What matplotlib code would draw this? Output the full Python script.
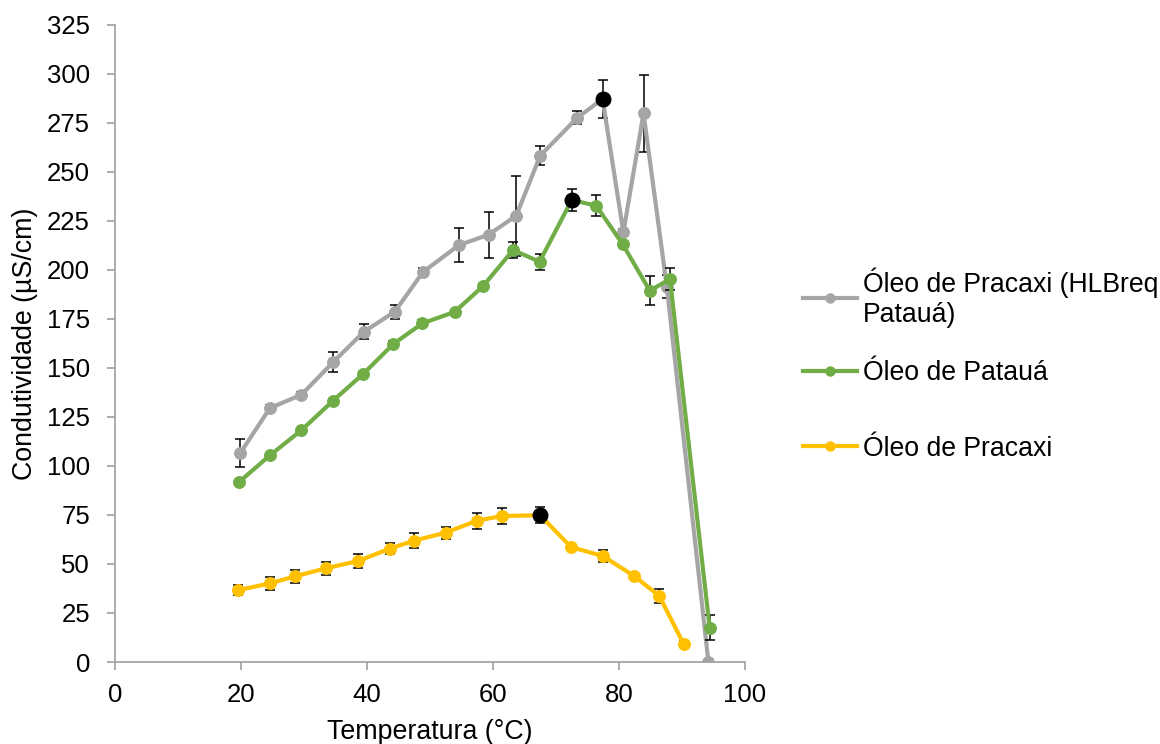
import matplotlib
matplotlib.use('Agg')
import matplotlib.pyplot as plt
from matplotlib.lines import Line2D

plt.rcParams['font.family'] = ['Liberation Sans', 'DejaVu Sans']

# dados
x_hlb = [19.9, 24.6, 29.6, 34.6, 39.5, 44.4, 48.9, 54.6, 59.3, 63.7, 67.5, 73.4, 77.4, 80.7, 83.9, 87.6, 94.2]
y_hlb = [106.6, 129.5, 136.3, 152.8, 168.4, 178.6, 198.9, 212.6, 217.9, 227.6, 258.2, 277.6, 287.1, 219.1, 279.8, 191.4, 0]
err_hlb = [6.9, 1.5, 1.5, 5.1, 3.8, 3.5, 2.0, 8.5, 11.8, 20.3, 4.8, 3.4, 9.9, 1.5, 19.6, 6.0, 0.5]

x_pat = [19.7, 24.6, 29.6, 34.6, 39.4, 44.2, 48.8, 53.9, 58.4, 63.2, 67.4, 72.5, 76.4, 80.6, 84.9, 88.1, 94.4]
y_pat = [91.8, 105.4, 118.2, 133.2, 146.9, 162.2, 172.7, 178.5, 191.6, 210.1, 204.1, 235.6, 232.7, 213.0, 189.3, 195.3, 17.5]
err_pat = [1, 1, 1, 1, 1, 1.5, 1.5, 1, 1, 4, 4, 5.5, 5.4, 1.5, 7.3, 5.4, 6.4]

x_pra = [19.6, 24.6, 28.6, 33.5, 38.6, 43.6, 47.5, 52.5, 57.5, 61.5, 67.5, 72.4, 77.4, 82.4, 86.4, 90.3]
y_pra = [36.7, 40.1, 43.7, 47.8, 51.5, 57.8, 61.9, 66.0, 72.1, 74.5, 74.8, 58.6, 54.1, 43.9, 33.7, 9.0]
err_pra = [2.5, 3.2, 3.3, 3.3, 3.4, 2.8, 3.8, 3.1, 4.1, 4, 4, 1, 2.9, 1, 3.6, 1.5]

# ponto destacado (preto) de cada serie
pico = [12, 11, 10]

series = [
    (x_hlb, y_hlb, err_hlb, '#A5A5A5', 'Óleo de Pracaxi (HLBreq\nPatauá)'),
    (x_pat, y_pat, err_pat, '#70AD47', 'Óleo de Patauá'),
    (x_pra, y_pra, err_pra, '#FFC000', 'Óleo de Pracaxi'),
]

fig = plt.figure(figsize=(11.6, 7.44), dpi=100)
ax = fig.add_axes([0.0991, 0.1102, 0.5431, 0.8566])

for i, (x, y, e, cor, nome) in enumerate(series):
    ax.errorbar(x, y, yerr=e, fmt='none', ecolor='black', elinewidth=1.1,
                capsize=3.6, capthick=1.1, zorder=2 + i)
    ax.plot(x, y, color=cor, lw=3.0, marker='o', ms=8.3, zorder=3 + i)
    k = pico[i]
    ax.plot([x[k]], [y[k]], 'o', color='black', ms=10.5, zorder=6)

ax.set_xlim(0, 100)
ax.set_ylim(0, 325)
ax.set_xticks(range(0, 101, 20))
ax.set_yticks(range(0, 326, 25))

for s in ['top', 'right']:
    ax.spines[s].set_visible(False)
for s in ['left', 'bottom']:
    ax.spines[s].set_color('#A6A6A6')
    ax.spines[s].set_linewidth(1.3)
ax.tick_params(axis='both', direction='out', length=6, width=1.3, color='#A6A6A6',
               labelsize=18.5, labelcolor='black')
ax.tick_params(axis='y', pad=12)
ax.tick_params(axis='x', pad=9)

ax.set_xlabel('Temperatura (°C)', fontsize=19.3, labelpad=9)
ax.set_ylabel('Condutividade (µS/cm)', fontsize=19.3, labelpad=6)

# legenda, uma entrada de cada vez (espacamento igual ao original)
posicoes = [0.600, 0.498, 0.397]
for (x, y, e, cor, nome), py in zip(series, posicoes):
    h = Line2D([], [], color=cor, lw=3.0, marker='o', ms=6.5)
    leg = fig.legend([h], [nome], loc='center left', bbox_to_anchor=(0.692, py),
                     frameon=False, fontsize=19.2, handlelength=2.05, handletextpad=0.2,
                     borderpad=0, borderaxespad=0)

fig.savefig('out.png', dpi=100)
